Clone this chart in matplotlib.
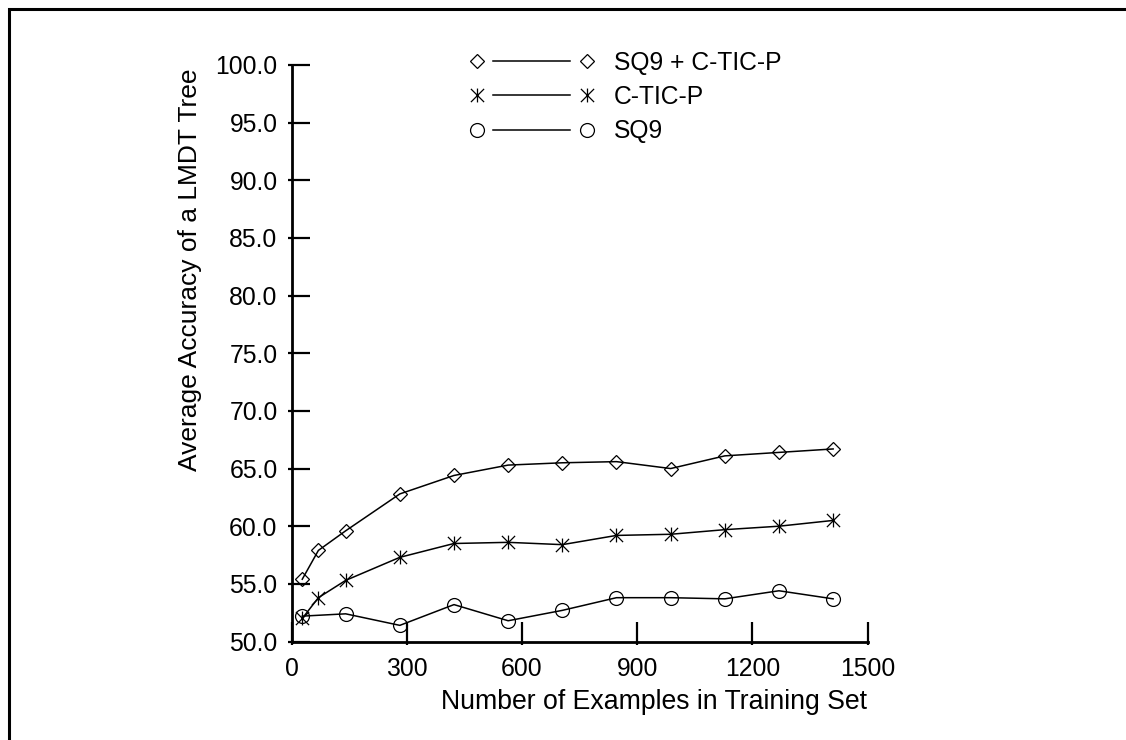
import matplotlib
matplotlib.use("Agg")
import matplotlib.pyplot as plt
from matplotlib.lines import Line2D
from matplotlib.patches import Rectangle
from matplotlib.path import Path
from matplotlib.legend_handler import HandlerLine2DCompound

# training set sizes (examples)
train_sizes = [28, 70, 141, 282, 423, 564, 705, 846, 987, 1128, 1269, 1410]
sq9_sizes = [28, 141, 282, 423, 564, 705, 846, 987, 1128, 1269, 1410]

acc_combo = [55.4, 57.9, 59.6, 62.8, 64.4, 65.3, 65.5, 65.6, 65.0, 66.1, 66.4, 66.7]
acc_ctic = [52.0, 53.8, 55.3, 57.3, 58.5, 58.6, 58.4, 59.2, 59.3, 59.7, 60.0, 60.5]
acc_sq9 = [52.2, 52.4, 51.4, 53.2, 51.8, 52.7, 53.8, 53.8, 53.7, 54.4, 53.7]

series_labels = ["SQ9 + C-TIC-P", "C-TIC-P", "SQ9"]

x_ticks = [0, 300, 600, 900, 1200, 1500]
y_ticks = [50.0, 55.0, 60.0, 65.0, 70.0, 75.0, 80.0, 85.0, 90.0, 95.0, 100.0]

# asterisk: vertical bar plus an X
STAR = Path(
    [(0, -1), (0, 1), (-0.95, -0.95), (0.95, 0.95), (-0.95, 0.95), (0.95, -0.95)],
    [Path.MOVETO, Path.LINETO, Path.MOVETO, Path.LINETO, Path.MOVETO, Path.LINETO],
)


class GapLineHandler(HandlerLine2DCompound):
    """Legend handle with markers at both ends and a shorter line between."""

    def create_artists(self, legend, orig_handle, xdescent, ydescent,
                       width, height, fontsize, trans):
        artists = super().create_artists(legend, orig_handle, xdescent, ydescent,
                                         width, height, fontsize, trans)
        line = artists[0]
        xd = line.get_xdata()
        gap = (xd[-1] - xd[0]) * 0.15
        line.set_xdata([xd[0] + gap, xd[-1] - gap])
        return artists


plt.rcParams.update({
    "font.family": ["Liberation Sans", "DejaVu Sans"],
    "font.size": 17.8,
})

W, H = 1126, 740
fig = plt.figure(figsize=(W / 100, H / 100), dpi=100)
ax = fig.add_axes([291.5 / W, 1 - 641.5 / H, 576.2 / W, 576.5 / H])

common = dict(color="black", linewidth=1.1, markerfacecolor="none",
              markeredgecolor="black", markeredgewidth=0.9)
h_combo, = ax.plot(train_sizes, acc_combo, marker="D", markersize=7.4, **common)
h_ctic, = ax.plot(train_sizes, acc_ctic, marker=STAR, markersize=10, **common)
h_sq9, = ax.plot(sq9_sizes, acc_sq9, marker="o", markersize=10, **common)

ax.set_xlim(0, 1500)
ax.set_ylim(50, 100)
ax.set_xticks(x_ticks)
ax.set_xticklabels([str(v) for v in x_ticks])
ax.set_yticks(y_ticks)
ax.set_yticklabels([f"{v:.1f}" for v in y_ticks])

# short outward stubs under the inward ticks
ax.set_xticks(x_ticks, minor=True)
ax.set_yticks(y_ticks, minor=True)
ax.xaxis.remove_overlapping_locs = False
ax.yaxis.remove_overlapping_locs = False

ax.tick_params(axis="x", which="major", direction="in", length=14.4, width=1.6,
               pad=11.5, labelsize=17.8)
ax.tick_params(axis="y", which="major", direction="in", length=13, width=1.6,
               pad=10, labelsize=17.8)
ax.tick_params(axis="x", which="minor", direction="out", length=2.4, width=1.6)
ax.tick_params(axis="y", which="minor", direction="out", length=3.2, width=1.6)

for side in ("top", "right"):
    ax.spines[side].set_visible(False)
for side in ("left", "bottom"):
    ax.spines[side].set_linewidth(2.0)

ax.set_xlabel("Number of Examples in Training Set", fontsize=19.2)
ax.xaxis.set_label_coords(0.629, -0.0824)
ax.set_ylabel("Average Accuracy of a LMDT Tree", fontsize=19.0)
ax.yaxis.set_label_coords(-0.155, 0.644)

ax.legend(
    [h_combo, h_ctic, h_sq9], series_labels,
    loc="upper left", bbox_to_anchor=(0.309, 1.025),
    frameon=False, borderpad=0, borderaxespad=0,
    numpoints=2, handlelength=5.07, handletextpad=0.8, labelspacing=0.42,
    fontsize=17.7,
    handler_map={Line2D: GapLineHandler()},
)

# page frame (only top and left edges fall inside the image)
fig.add_artist(Rectangle((9 / W, -0.5), 1.5, 1.5 - 9.3 / H,
                         transform=fig.transFigure, fill=False,
                         edgecolor="black", linewidth=2.2))

fig.savefig("out.png", dpi=100)
